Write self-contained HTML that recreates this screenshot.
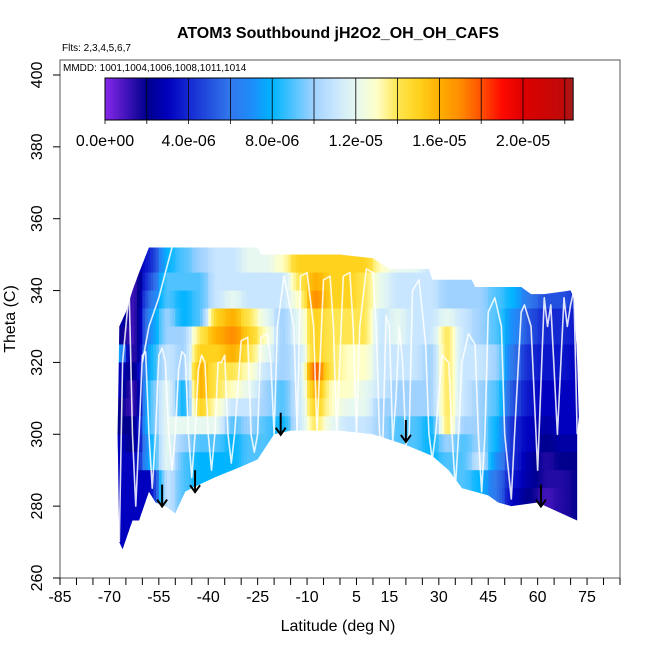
<!DOCTYPE html>
<html><head><meta charset="utf-8"><style>
body{margin:0;background:#fff}
svg{display:block;font-family:"Liberation Sans",sans-serif}
</style></head><body>
<svg id="chart" width="650" height="650" viewBox="0 0 650 650" xmlns="http://www.w3.org/2000/svg">
<defs><clipPath id="clipData"><polygon id="clipPoly" points=""/></clipPath></defs>
<text x="338" y="38" text-anchor="middle" font-size="16" font-weight="bold">ATOM3 Southbound jH2O2_OH_OH_CAFS</text>
<text x="62" y="51" font-size="10">Flts: 2,3,4,5,6,7</text>
<g id="cells" clip-path="url(#clipData)"></g>
<g id="tracks"></g>
<g id="arrows"></g>
<rect x="60" y="60" width="560" height="518" fill="none" stroke="#555" stroke-width="1"/>
<text x="63" y="71" font-size="10">MMDD: 1001,1004,1006,1008,1011,1014</text>
<g id="cbar"></g>
<g id="xaxis"></g>
<g id="yaxis"></g>
<text x="338" y="631" text-anchor="middle" font-size="16">Latitude (deg N)</text>
<text transform="translate(15,319) rotate(-90)" text-anchor="middle" font-size="16">Theta (C)</text>
</svg>
<script>
const latEdges=[-70,-65,-60,-55,-50,-45,-40,-35,-30,-25,-20,-15,-10,-5,0,5,10,15,20,25,30,35,40,45,50,55,60,65,70,75];
const thetaTops=[355,350,345,340,335,330,325,320,315,310,305,300,295,290,285,280,275,270];
const values=[
[3,3,3,3,3,2,8,3,3,2,2,3,3,3,3,3,3,3],
[2,2,1,1,1,1,1,2,1,1,2,2,3,3,3,3,3,3],
[4,4,5,6,7,7,8,8,9,9,9,8,8,3,3,3,3,3],
[8,8,9,9,10,10,11,11,12,12,12,12,12,11,11,11,11,11],
[9,9,9,8,8,10,10,10,8,8,12,10,9,9,9,9,9,9],
[10,10,9,9,9,14,15,16,16,15,12,9,8,8,8,8,8,8],
[11,11,11,11,15,16,15,14,14,13,12,9,8,8,8,8,8,8],
[11,11,11,12,16,17,16,14,13,11,9,8,8,8,8,8,8,8],
[12,12,11,11,14,15,14,13,12,11,10,9,9,9,9,9,9,9],
[12,12,11,11,12,13,12,11,10,10,9,9,9,9,9,9,9,9],
[13,13,11,11,10,10,10,10,9,9,8,8,8,8,8,8,8,8],
[15,15,14,13,12,12,11,11,11,11,11,11,11,11,11,11,11,11],
[15,15,16,17,15,15,15,18,16,15,14,13,13,13,13,13,13,13],
[15,15,15,15,14,14,14,14,13,13,12,12,12,12,12,12,12,12],
[18,15,15,15,14,14,13,13,13,12,11,11,11,11,11,11,11,11],
[15,15,14,14,14,14,13,13,12,12,11,11,11,11,11,11,11,11],
[13,13,12,12,11,11,11,11,11,10,10,10,10,10,10,10,10,10],
[12,12,11,11,12,12,11,11,10,10,9,9,9,9,9,9,9,9],
[12,12,11,11,11,11,11,11,10,10,9,9,9,9,9,9,9,9],
[11,11,11,11,11,11,10,10,10,10,8,8,8,8,8,8,8,8],
[10,10,10,10,12,14,14,14,14,14,14,10,9,9,9,9,9,9],
[10,10,10,10,11,11,11,11,11,11,10,9,9,9,9,9,9,9],
[10,10,10,10,10,10,11,11,10,10,10,10,11,8,8,8,8,8],
[9,9,9,9,9,9,10,10,9,9,8,8,7,6,6,6,6,6],
[8,8,8,8,7,7,6,6,5,5,4,4,4,3.5,3,3,3,3],
[6,6,6,6,5,5,4,4,3.5,3.5,3,3,2.5,2.5,2,2,2,2],
[5,5,5,5,4,4,3.5,3.5,3,3,2.5,2,1.5,1.5,1,1,1,1],
[5,5,5,5,4,4,3.5,3.5,3,3,3,2.5,2,1.5,1.5,1.5,1.5,1.5],
[4,4,4,4,3.5,3.5,3,3,3,3,3,2.5,2,2,2,2,2,2]];
const boundLat=[-67,-66,-65,-63,-61,-58,-25,-24,0,10,15,27,28,40,41,55,58,62,70,71,72,72.5,72,72,60,52,48,45,37,33,28,20,10,0,-15,-20,-25,-30,-38,-45,-47,-50,-53,-56,-58,-61,-63,-66,-67,-67.5];
const boundTheta=[330,332,334,340,345,352,352,350,350,349,346,346,343,343,341,341,339,339,340,338,320,305,300,276,281,280,281,283,285,290,294,297,300,301,301,300,293,291,288,285,284,278,280,281,284,276,276,268,270,300];
const trackLat=[72,71,70,69,68,66,64,63,62,60,58,56,55,53,52,50,49,47,45,44,43,42,41,39,37,36,35,34,33,31,29,28,27,26,24,22,21,20,19,18,17,16,15,14,13,12,11,10,8,6,5,4,3,1,-1,-2,-3,-5,-7,-8,-10,-12,-13,-14,-17,-19,-20,-21,-22,-24,-25,-26,-27,-28,-30,-32,-33,-34,-35,-36,-37,-38,-39,-40,-41,-42,-43,-44,-45,-46,-47,-48,-49,-50,-51,-52,-53,-54,-55,-56,-57,-58,-59,-60,-61,-62,-63,-64,-66,-67];
const trackTheta=[300,340,336,330,338,300,336,330,338,290,330,336,334,300,282,300,330,338,334,300,284,300,325,328,320,300,285,300,320,322,300,293,300,325,343,340,300,297,320,330,310,298,330,333,298,300,330,345,346,330,300,330,345,344,300,330,344,343,300,330,345,344,300,330,344,330,300,320,328,327,300,295,300,327,326,300,292,300,322,320,320,300,290,300,320,322,318,300,288,300,322,323,318,300,290,300,320,324,322,300,285,300,323,322,300,280,300,340,320,270];
const track2Lat=[-60,-58,-55,-53,-51];
const track2Theta=[320,330,338,345,352];
const arrowLat=[-54,-44,-18,20,61];
const arrowTheta=[286,290,306,304,286];
const cbTickLabels=["0.0e+00","4.0e-06","8.0e-06","1.2e-05","1.6e-05","2.0e-05"];
const xTickLabels=[-85,-70,-55,-40,-25,-10,5,15,30,45,60,75];
const yTickValues=[260,280,300,320,340,360,380,400];

const NS="http://www.w3.org/2000/svg";
const X=lat=>60+(lat+85)*560/170;
const Y=t=>578-(t-260)*3.593;
function mk(tag,attrs,parent){const e=document.createElementNS(NS,tag);for(const k in attrs)e.setAttribute(k,attrs[k]);parent.appendChild(e);return e;}
const stops=[[0,[135,40,235]],[2,[0,0,140]],[3,[0,0,190]],[4,[20,40,210]],[6,[50,120,235]],[7,[30,140,250]],[8,[0,180,255]],[10,[160,210,255]],[11,[200,230,255]],[12,[230,248,240]],[13,[255,255,200]],[14,[255,230,80]],[15,[255,210,30]],[16,[255,175,0]],[17,[255,140,0]],[18,[255,80,0]],[19,[255,10,0]],[20,[220,0,0]],[22,[190,10,10]],[22.4,[160,30,30]]];
function col(v){for(let i=0;i<stops.length-1;i++){const a=stops[i],b=stops[i+1];if(v<=b[0]){const f=Math.max(0,(v-a[0])/(b[0]-a[0]));const c=a[1].map((x,j)=>Math.round(x+(b[1][j]-x)*f));return `rgb(${c})`;}}return 'rgb(160,30,30)';}

document.getElementById('clipPoly').setAttribute('points',boundLat.map((l,i)=>X(l)+','+Y(boundTheta[i])).join(' '));
const cells=document.getElementById('cells');
const SUB=6;
values.forEach((colv,ci)=>{colv.forEach((v,ri)=>{
 const x0=X(latEdges[ci]),x1=X(latEdges[ci+1]),w=(x1-x0)/SUB;
 const prev=ci>0?values[ci-1][ri]:v, next=ci<values.length-1?values[ci+1][ri]:v;
 for(let s=0;s<SUB;s++){
  const f=(s+0.5)/SUB; let vv;
  if(f<0.5) vv=v+(prev-v)*(0.5-f)*0.8; else vv=v+(next-v)*(f-0.5)*0.8;
  const r=mk('rect',{x:x0+s*w,y:Y(thetaTops[ri]),width:w+0.4,height:Y(thetaTops[ri]-5)-Y(thetaTops[ri])+0.4,fill:col(vv)},cells);
  
  
 }
});});
const tracks=document.getElementById('tracks');
[[trackLat,trackTheta],[track2Lat,track2Theta]].forEach(([la,th])=>{
 const p=mk('polyline',{points:la.map((l,i)=>X(l)+','+Y(th[i])).join(' '),fill:'none',stroke:'#fff','stroke-width':1.6,'stroke-opacity':0.85,'stroke-linejoin':'round'},tracks);
 
 
});
const arrows=document.getElementById('arrows');
arrowLat.forEach((l,i)=>{
 const x=X(l),y1=Y(arrowTheta[i]),y2=y1+22;
 const g=mk('g',{},arrows);
 
 
 mk('line',{x1:x,y1:y1,x2:x,y2:y2,stroke:'#000','stroke-width':2},g);
 mk('polyline',{points:`${x-5},${y2-7} ${x},${y2} ${x+5},${y2-7}`,fill:'none',stroke:'#000','stroke-width':2},g);
});
// colorbar
const cb=document.getElementById('cbar');
const cbx0=105,cbw=41.8,cbMax=22.4;
for(let k=0;k<Math.round(cbMax*8);k++){const v=k/8;const r=mk('rect',{x:cbx0+v*cbw/2,y:78,width:cbw/16+0.5,height:42,fill:col(v+0.0625)},cb);
 
 }
mk('rect',{x:cbx0,y:78,width:cbMax*cbw/2,height:42,fill:'none',stroke:'#000','stroke-width':1},cb);
for(let k=0;k<=11;k++){mk('line',{x1:cbx0+k*cbw,y1:78,x2:cbx0+k*cbw,y2:124,stroke:'#000','stroke-width':0.8},cb);}
cbTickLabels.forEach((s,i)=>{const t=mk('text',{x:cbx0+i*2*cbw,y:146,'text-anchor':'middle','font-size':16},cb);t.textContent=s;
 
 });
// x axis
const xa=document.getElementById('xaxis');
for(let l=-85;l<=85;l+=5){mk('line',{x1:X(l),y1:578,x2:X(l),y2:585,stroke:'#000'},xa);}
xTickLabels.forEach(l=>{const t=mk('text',{x:X(l),y:602,'text-anchor':'middle','font-size':16},xa);t.textContent=l;
 
 });
// y axis
const ya=document.getElementById('yaxis');
yTickValues.forEach(v=>{mk('line',{x1:53,y1:Y(v),x2:60,y2:Y(v),stroke:'#000'},ya);
 const t=mk('text',{transform:`translate(42,${Y(v)}) rotate(-90)`,'text-anchor':'middle','font-size':16},ya);t.textContent=v;
 
 });
</script>
</body></html>
